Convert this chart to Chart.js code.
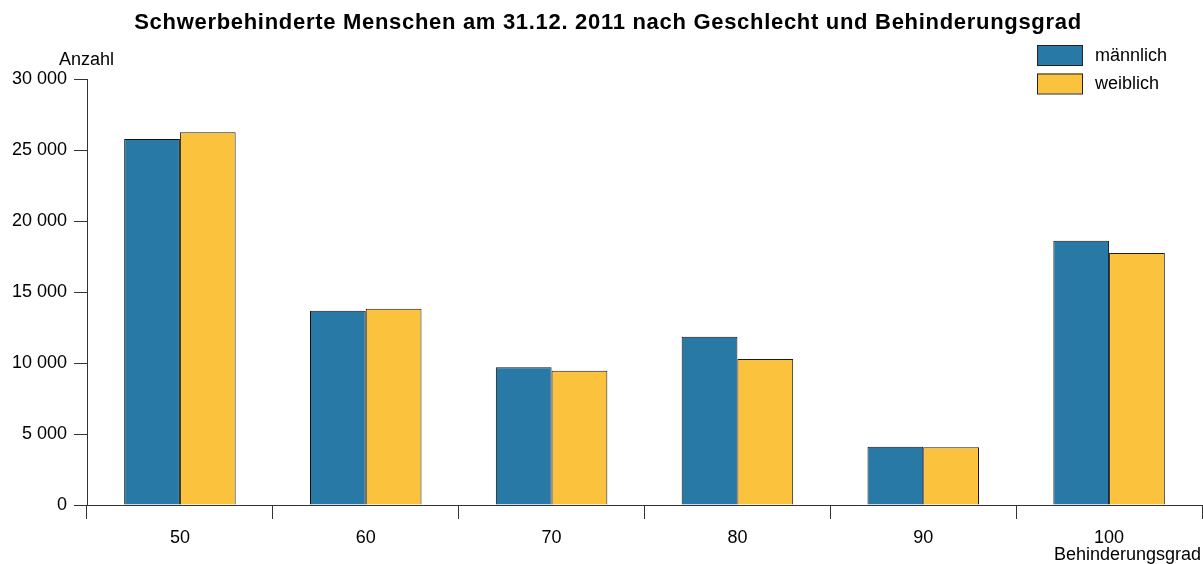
<!doctype html>
<html>
<head>
    <title>Schwerbehinderte Menschen</title>
    <script src="https://cdn.jsdelivr.net/npm/chart.js"></script>
    <style>
        body { margin: 0; background: #fff; }
        #chart { display: block; }
    </style>
</head>
<body>
    <canvas id="chart" width="1203" height="564"></canvas>

    <script>
        const grades = ['50', '60', '70', '80', '90', '100'];
        const maennlich = [25780, 13680, 9700, 11850, 4110, 18610];
        const weiblich = [26250, 13820, 9460, 10280, 4060, 17750];
        const seriesNames = ['männlich', 'weiblich'];
        const yTicks = [0, 5000, 10000, 15000, 20000, 25000, 30000];

        const title = 'Schwerbehinderte Menschen am 31.12. 2011 nach Geschlecht und Behinderungsgrad';
        const fontFamily = '"Liberation Sans", Arial, sans-serif';
        const axisColor = '#333';

        function fmt(v) {
            return String(v).replace(/\B(?=(\d{3})+(?!\d))/g, ' ');
        }

        // title, axis names and legend drawn on top of the chart
        const extras = {
            id: 'extras',
            afterDraw(chart) {
                const ctx = chart.ctx;
                ctx.save();
                ctx.fillStyle = '#000';
                ctx.textBaseline = 'middle';

                ctx.font = 'bold 22px ' + fontFamily;
                ctx.letterSpacing = '0.7px';
                ctx.textAlign = 'center';
                ctx.fillText(title, 608, 23);
                ctx.letterSpacing = '0px';

                ctx.font = '18px ' + fontFamily;
                ctx.textAlign = 'left';
                ctx.fillText('Anzahl', 59, 60);
                ctx.textAlign = 'right';
                ctx.fillText('Behinderungsgrad', 1201, 555);

                chart.data.datasets.forEach((ds, i) => {
                    const y = 45 + i * 28.5;
                    ctx.fillStyle = ds.backgroundColor;
                    ctx.fillRect(1037, y, 46, 20);
                    ctx.strokeStyle = '#222';
                    ctx.lineWidth = 1;
                    ctx.strokeRect(1037.5, y + 0.5, 45, 20);
                    ctx.fillStyle = '#000';
                    ctx.textAlign = 'left';
                    ctx.fillText(ds.label, 1095, y + 11);
                });
                ctx.restore();
            }
        };

        new Chart(document.getElementById('chart'), {
            type: 'bar',
            data: {
                labels: grades,
                datasets: [
                    {
                        label: seriesNames[0],
                        data: maennlich,
                        backgroundColor: '#2879a6',
                        borderColor: '#111',
                        borderWidth: 1
                    },
                    {
                        label: seriesNames[1],
                        data: weiblich,
                        backgroundColor: '#fbc33d',
                        borderColor: '#1a1a1a',
                        borderWidth: 1
                    }
                ]
            },
            plugins: [extras],
            options: {
                responsive: false,
                animation: false,
                events: [],
                layout: { padding: { top: 79, right: 1, left: 0, bottom: 0 } },
                datasets: {
                    bar: { categoryPercentage: 0.6, barPercentage: 1.0 }
                },
                plugins: {
                    legend: { display: false },
                    title: { display: false },
                    tooltip: { enabled: false }
                },
                scales: {
                    x: {
                        grid: {
                            offset: true,
                            drawOnChartArea: false,
                            drawTicks: true,
                            tickLength: 14,
                            color: axisColor
                        },
                        border: { display: true, color: axisColor, width: 1 },
                        ticks: {
                            color: '#000',
                            padding: 8,
                            maxRotation: 0,
                            font: { size: 18, family: fontFamily }
                        },
                        afterFit(scale) { scale.height = 59; }
                    },
                    y: {
                        min: 0,
                        max: 30000,
                        afterBuildTicks(scale) {
                            scale.ticks = yTicks.map(v => ({ value: v }));
                        },
                        grid: {
                            drawOnChartArea: false,
                            drawTicks: true,
                            tickLength: 13,
                            color: axisColor
                        },
                        border: { display: true, color: axisColor, width: 1 },
                        ticks: {
                            color: '#000',
                            padding: 7,
                            font: { size: 18, family: fontFamily },
                            callback: v => fmt(v)
                        },
                        afterFit(scale) { scale.width = 87; }
                    }
                }
            }
        });
    </script>
</body>
</html>
